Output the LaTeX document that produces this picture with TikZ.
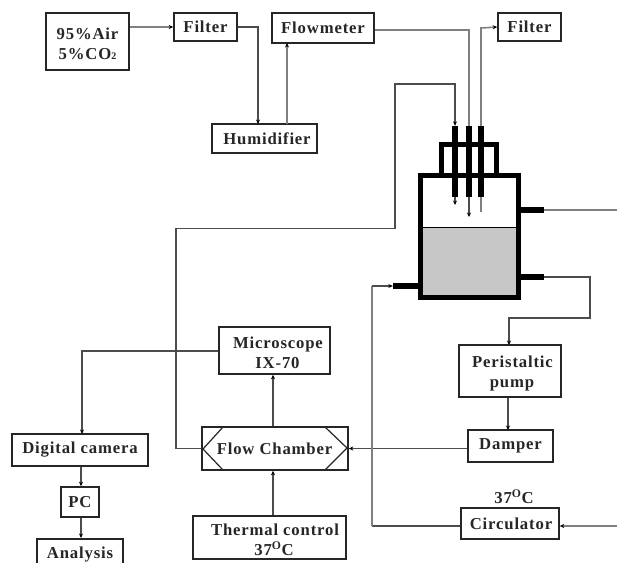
\documentclass[tikz,border=0pt]{standalone}
\usepackage{fontspec}
\setmainfont[LetterSpace=5]{Liberation Serif}
\usetikzlibrary{arrows.meta}
\newcommand\sh[2]{\hspace*{#1}#2}
\newcommand\dn{\rule{0pt}{17pt}}
\tikzset{
  box/.style={draw=black!85,line width=1.6pt,fill=white,inner sep=0pt,align=center,font=\fontsize{16.7}{20}\selectfont\bfseries,text=black!85},
  bare/.style={inner sep=0pt,font=\fontsize{16.7}{20}\selectfont\bfseries,text=black!85},
  tube/.style={draw=none,fill=black,inner sep=0pt,minimum width=5.5pt},
  port/.style={draw=none,fill=black,inner sep=0pt,minimum height=5.5pt},
  wall/.style={draw=black,line width=5pt,line join=miter},
  flow/.style={draw=black!70,line width=1.1pt,-{Stealth[length=4.5pt,width=4pt,color=black]}},
  flowg/.style={draw=black!50,line width=1.6pt,-{Stealth[length=4.5pt,width=4pt,color=black]}},
  plain/.style={draw=black!70,line width=1.1pt},
  plaing/.style={draw=black!50,line width=1.6pt}
}
\begin{document}
\begin{tikzpicture}[x=1pt,y=-1pt]
\useasboundingbox (0,0) rectangle (617,562);
\fill[white] (0,0) rectangle (617,562);
\clip (0,0) rectangle (617,562);
% boxes
\node[box,minimum width=83pt,minimum height=57pt] (air) at (87.5,41.5) {\dn 95\%Air\\5\%CO{\fontsize{10}{10}\selectfont 2}};
\node[box,minimum width=63pt,minimum height=28pt] (filterA) at (205.5,27) {Filter};
\node[box,minimum width=102pt,minimum height=30pt] (flowm) at (323,28) {Flowmeter};
\node[box,minimum width=105pt,minimum height=29pt] (humid) at (264.5,138.5) {\sh{5pt}{Humidifier}};
\node[box,minimum width=63pt,minimum height=28pt] (filterB) at (529.5,27) {Filter};
\node[box,minimum width=111pt,minimum height=47pt] (micro) at (274.5,350.5) {\dn\sh{7pt}{Microscope}\\\sh{6pt}{IX-70}};
\node[box,minimum width=146pt,minimum height=43pt] (chamber) at (275,448.5) {};
\node[box,minimum width=153pt,minimum height=43pt] (thermal) at (269.5,537.5) {\dn\sh{11pt}{Thermal control}\\\sh{9pt}{37\textsuperscript{O}C}};
\node[box,minimum width=136pt,minimum height=32pt] (camera) at (80,450) {Digital camera};
\node[box,minimum width=38pt,minimum height=30pt] (pc) at (80,502) {PC};
\node[box,minimum width=86pt,minimum height=48pt,anchor=north,text height=15pt,text depth=23pt] (analysis) at (80,538) {Analysis};
\node[box,minimum width=102pt,minimum height=52pt] (pump) at (510,371) {\dn\sh{5pt}{Peristaltic}\\\sh{4pt}{pump}};
\node[box,minimum width=85pt,minimum height=32pt] (damper) at (510.5,446) {Damper};
\node[box,minimum width=98pt,minimum height=31pt] (circ) at (510,523.5) {\sh{2pt}{Circulator}};
\node[bare] (temp) at (514,497) {37\textsuperscript{O}C};
% flow chamber inner outline and label
\draw[draw=black!85,line width=1.2pt] (223,427) -- (203,449) -- (223,470) (325,427) -- (347,448) -- (325,470);
\node[bare] (chamberlabel) at (274.5,449) {Flow Chamber};
% vessel
\fill[black!22] (420.5,227) rectangle (518.5,297.5);
\draw[black,line width=1pt] (420.5,227) -- (518.5,227);
\draw[wall] (441.5,175) -- (441.5,144.5) -- (496,144.5) -- (496,175);
\draw[wall] (420.5,175) rectangle (518.5,297.5);
\node[tube,minimum height=71pt] (tubeA) at (455,161.5) {};
\node[tube,minimum height=71pt] (tubeB) at (469,161.5) {};
\node[tube,minimum height=71pt] (tubeC) at (481,161.5) {};
\node[port,minimum width=23pt] (portR) at (532.5,210) {};
\node[port,minimum width=23pt] (portO) at (532.5,277) {};
\node[port,minimum width=25pt] (portL) at (405.5,286) {};
% free ends
\coordinate (tipA) at (455,205);
\coordinate (tipB) at (469,217);
\coordinate (tipC) at (481,212);
\coordinate (edgeR) at (617,210);
\coordinate (edgeC) at (617,526);
% connectors
\draw[flowg] (air.east |- filterA.west) -- (filterA.west);
\draw[flow] (filterA.east) -- (258,27) -- (258,124);
\draw[flowg] (287,124) -- (287,43);
\draw[plaing] (flowm.east |- 0,30) -- (469,30) -- (tubeB.north);
\draw[flowg] (tubeC.north) -- (481,28) -- (filterB.west);
\draw[flow] (chamber.west) -- (176,448.5) -- (176,228.5) -- (395,228.5) -- (395,84) -- (455,84) -- (tubeA.north);
\draw[flow] (tubeA.south) -- (tipA);
\draw[flow] (tubeB.south) -- (tipB);
\draw[plaing] (tubeC.south) -- (tipC);
\draw[plaing] (portR.east) -- (edgeR);
\draw[flow] (portO.east) -- (590,277) -- (590,318) -- (509,318) -- (509,345);
\draw[flow] (pump.south -| 508,0) -- (508,430);
\draw[plain] (damper.west |- chamber.east) -- (360,448.5);
\draw[flow] (360,448.5) -- (chamber.east);
\draw[flowg] (edgeC) -- (circ.east |- edgeC);
\draw[plain] (circ.west |- edgeC) -- (372,526);
\draw[plaing] (372,526) -- (372,286);
\draw[flow] (372,286) -- (portL.west);
\draw[flow] (micro.west |- 0,351) -- (82,351) -- (82,434);
\draw[flow] (camera.south -| 81,0) -- (pc.north -| 81,0);
\draw[flow] (pc.south -| 81,0) -- (analysis.north -| 81,0);
\draw[flow] (chamber.north -| 273,0) -- (micro.south -| 273,0);
\draw[flow] (thermal.north -| 273,0) -- (chamber.south -| 273,0);
\end{tikzpicture}
\end{document}
